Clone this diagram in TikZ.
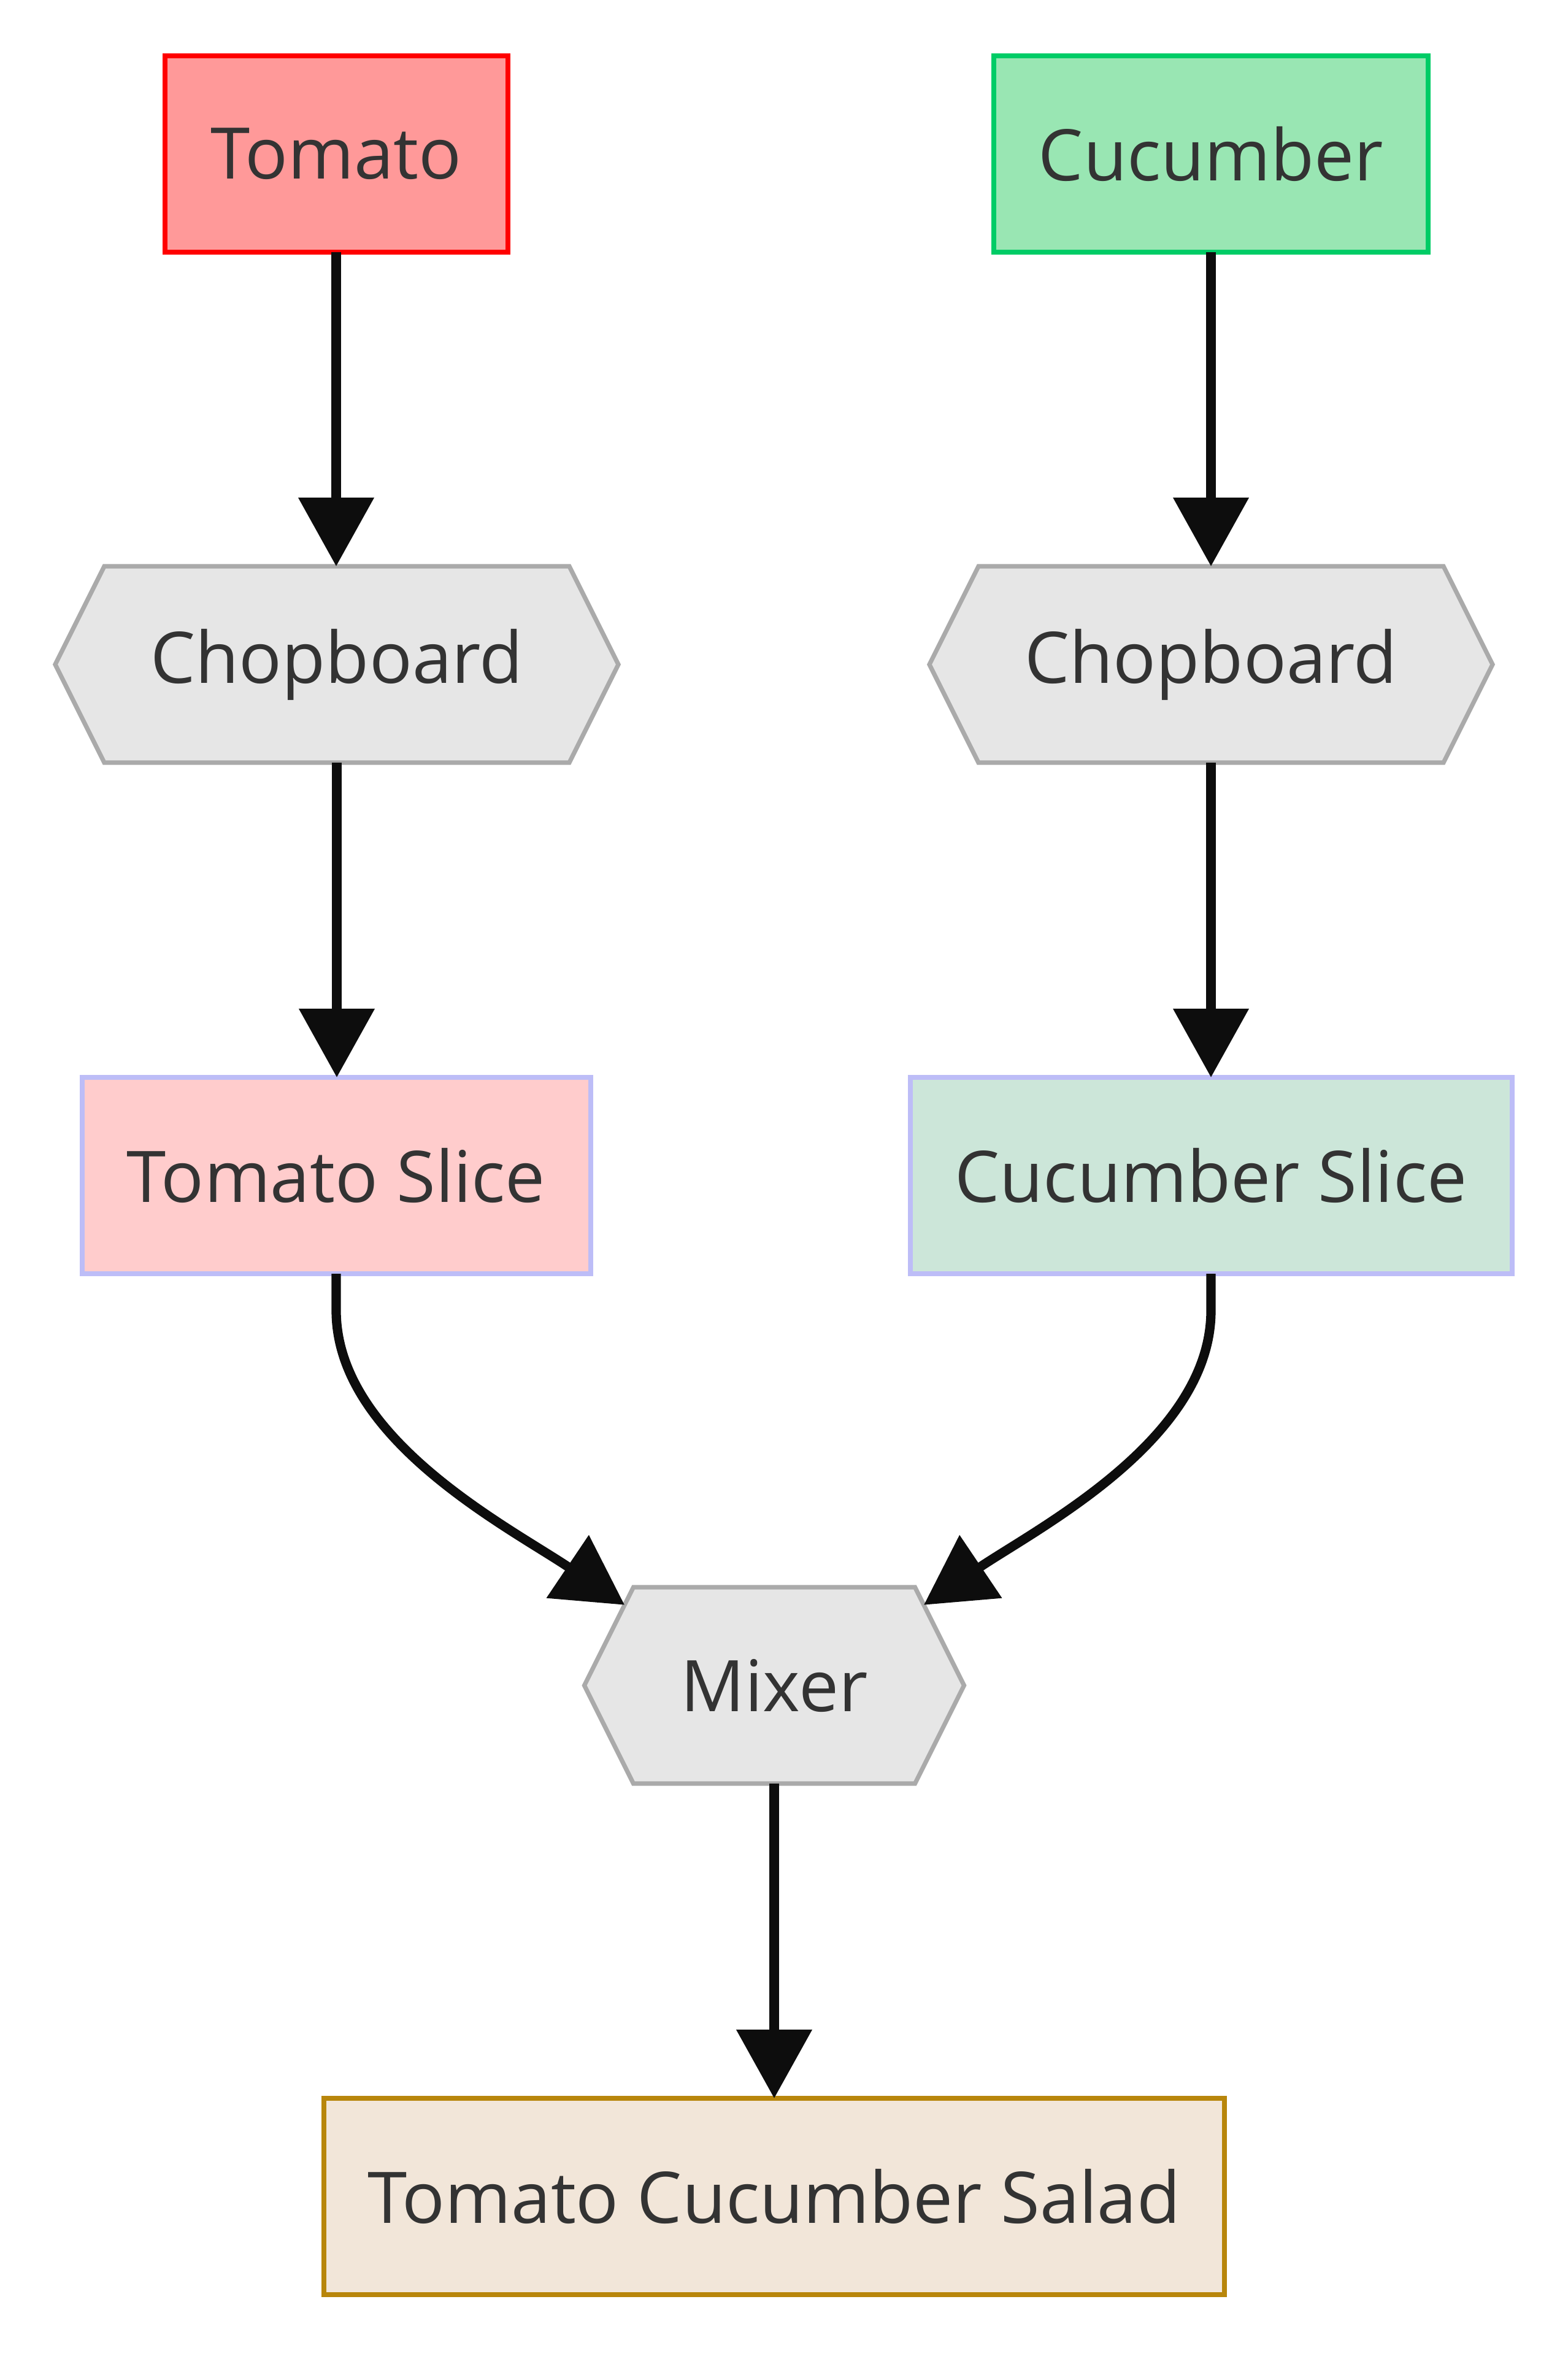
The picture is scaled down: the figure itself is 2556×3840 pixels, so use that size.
\documentclass[tikz,border=0pt]{standalone}
\usepackage{fontspec}
\setmainfont{Open Sans}
\usetikzlibrary{arrows.meta,calc,backgrounds}
\definecolor{txt}{HTML}{333333}
\definecolor{arrowc}{HTML}{0D0D0D}
\definecolor{tomfill}{HTML}{FF9999}
\definecolor{tomdraw}{HTML}{FF0000}
\definecolor{cucfill}{HTML}{99E6B3}
\definecolor{cucdraw}{HTML}{00CC66}
\definecolor{tsfill}{HTML}{FFCCCC}
\definecolor{csfill}{HTML}{CCE6D9}
\definecolor{slicedraw}{HTML}{BDBDF7}
\definecolor{salfill}{HTML}{F2E6D9}
\definecolor{saldraw}{HTML}{B8860B}
\definecolor{hexfill}{HTML}{E6E6E6}
\definecolor{hexdraw}{HTML}{AAAAAA}
\newcommand\drawhexagon[1]{%
  \path[hexstyle] (#1.west) -- ($(#1.north west)+(80,0)$) -- ($(#1.north east)+(-80,0)$)
    -- (#1.east) -- ($(#1.south east)+(-80,0)$) -- ($(#1.south west)+(80,0)$) -- cycle;}
\begin{document}
\begin{tikzpicture}[x=0.25pt,y=-0.25pt,
  lbl/.style={font=\fontsize{29pt}{35pt}\selectfont, text=txt, inner sep=0pt, outer sep=0pt, minimum height=80pt},
  box/.style={lbl, draw, line width=2pt},
  hexnode/.style={lbl},
  hexstyle/.style={fill=hexfill, draw=hexdraw, line width=1.8pt, line join=miter},
  edge/.style={draw=arrowc, line width=3.8pt, -{Triangle[length=28pt,width=30pt]}}]
\useasboundingbox (0,0) rectangle (2556,3840);
\begin{scope}[on background layer]
  \fill[white] (0,0) rectangle (2556,3840);
\end{scope}

\node[box, fill=tomfill, draw=tomdraw, minimum width=139.75pt] (tomato) at (548,251) {Tomato};
\node[box, fill=cucfill, draw=cucdraw, minimum width=177pt] (cucumber) at (1974,251) {Cucumber};
\node[hexnode, minimum width=229.5pt] (chopL) at (549,1083) {Chopboard};
\node[hexnode, minimum width=229.5pt] (chopR) at (1974,1083) {Chopboard};
\node[box, fill=tsfill, draw=slicedraw, minimum width=207.25pt] (tslice) at (548,1916) {Tomato Slice};
\node[box, fill=csfill, draw=slicedraw, minimum width=245.25pt] (cslice) at (1974,1916) {Cucumber Slice};
\node[hexnode, minimum width=154.75pt] (mix) at (1262,2747) {Mixer};
\node[box, fill=salfill, draw=saldraw, minimum width=367pt] (salad) at (1262,3580) {Tomato Cucumber Salad};

\begin{scope}[on background layer]
  \drawhexagon{chopL}
  \drawhexagon{chopR}
  \drawhexagon{mix}
\end{scope}

\coordinate (mixTL) at ($(mix.north west)+(80,0)$);
\coordinate (mixTR) at ($(mix.north east)+(-80,0)$);
\coordinate (mixInL) at ($(mixTL)!0.18!(mix.west)$);
\coordinate (mixInR) at ($(mixTR)!0.18!(mix.east)$);

\draw[edge] (tomato.south) -- (tomato.south |- chopL.north);
\draw[edge] (cucumber.south) -- (cucumber.south |- chopR.north);
\draw[edge] (chopL.south) -- (chopL.south |- tslice.north);
\draw[edge] (chopR.south) -- (chopR.south |- cslice.north);
\draw[edge] (tslice.south) -- ++(0,60) .. controls +(0,210) and +(-187,-126) .. (mixInL);
\draw[edge] (cslice.south) -- ++(0,60) .. controls +(0,210) and +(187,-126) .. (mixInR);
\draw[edge] (mix.south) -- (mix.south |- salad.north);
\end{tikzpicture}
\end{document}
